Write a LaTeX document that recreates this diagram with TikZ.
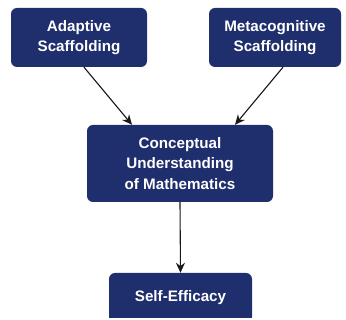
\documentclass[tikz,border=0pt]{standalone}
\usepackage{fontspec}
\setmainfont{Liberation Sans}
\usetikzlibrary{arrows.meta,calc}
\definecolor{navy}{RGB}{31,46,108}
\definecolor{linkgray}{RGB}{25,25,25}
\begin{document}
\begin{tikzpicture}[x=1pt,y=-1pt,
  box/.style={draw=none,fill=navy,rounded corners=6pt,text=white,
    font=\fontsize{15.2}{20.5}\selectfont\bfseries,align=center,
    inner sep=0pt},
  link/.style={draw=linkgray,line width=1.1pt,-{Stealth[length=10pt,width=9pt]}}]
  \useasboundingbox (0,0) rectangle (346,320);
  \begin{scope}
    \clip (0,0) rectangle (346,318);
    \node[box,minimum width=136pt,minimum height=59pt] (adapt) at (79,37.5)
      {Adaptive\\Scaffolding};
    \node[box,minimum width=132pt,minimum height=59pt] (meta) at (275,37.5)
      {Metacognitive\\Scaffolding};
    \node[box,minimum width=186pt,minimum height=77pt] (concept) at (180,163.5)
      {Conceptual\\Understanding\\of Mathematics};
    \node[box,minimum width=143pt,minimum height=50pt] (self) at (180.5,298)
      {Self-Efficacy};
  \end{scope}
  \draw[link] ($(adapt.south)+(5,0)$) -- ($(concept.north)+(-48,0)$);
  \draw[link] ($(meta.south)+(8,0)$) -- ($(concept.north)+(55,0)$);
  \draw[link] (concept.south) -- (self.north);
\end{tikzpicture}
\end{document}
